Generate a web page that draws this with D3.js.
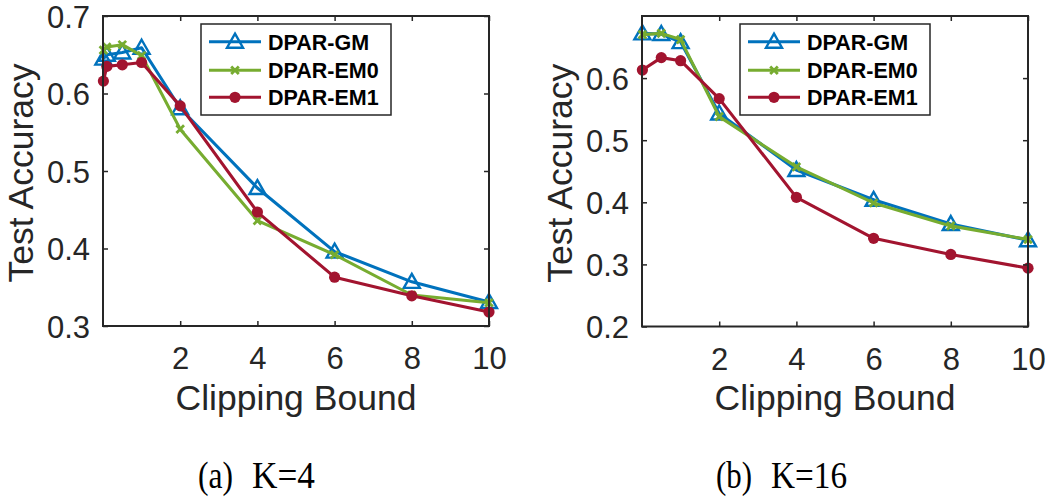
<!DOCTYPE html>
<html>
<head>
<meta charset="utf-8">
<script src="https://cdn.jsdelivr.net/npm/d3@7"></script>
<style>
  html, body { margin: 0; padding: 0; background: #fff; }
  svg { display: block; }
</style>
</head>
<body>
<svg id="chart" width="1050" height="497"></svg>
<script>
// ---------- data ----------
const seriesNames = ["DPAR-GM", "DPAR-EM0", "DPAR-EM1"];

// (a) K=4
const xA = [0.01, 0.1, 0.5, 1, 2, 4, 6, 8, 10];
const gmA  = [0.645, 0.650, 0.653, 0.659, 0.581, 0.478, 0.396, 0.357, 0.331];
const em0A = [0.656, 0.660, 0.663, 0.649, 0.554, 0.436, 0.392, 0.340, 0.330];
const em1A = [0.616, 0.635, 0.637, 0.640, 0.584, 0.447, 0.363, 0.339, 0.318];

// (b) K=16
const xB = [0.01, 0.5, 1, 2, 4, 6, 8, 10];
const gmB  = [0.672, 0.671, 0.658, 0.543, 0.452, 0.404, 0.365, 0.339];
const em0B = [0.670, 0.672, 0.662, 0.538, 0.457, 0.399, 0.362, 0.340];
const em1B = [0.613, 0.633, 0.628, 0.567, 0.408, 0.342, 0.316, 0.294];

const xTicks = [2, 4, 6, 8, 10];
const yTicksA = [0.3, 0.4, 0.5, 0.6, 0.7];
const yTicksB = [0.2, 0.3, 0.4, 0.5, 0.6];
const yDomainA = [0.3, 0.7];
const yDomainB = [0.2, 0.7];
const xLabel = "Clipping Bound";
const yLabel = "Test Accuracy";
const captionTag = ["(a)", "(b)"];
const captionK = ["K=4", "K=16"];

// ---------- style ----------
const colors = ["#0072BD", "#77AC30", "#A2142F"];
const axisColor = "#262626";
const sans = "'Liberation Sans', Arial, Helvetica, sans-serif";
const serif = "'Liberation Serif', 'Times New Roman', serif";

const svg = d3.select("#chart");

function drawMarker(g, type, x, y, color) {
  if (type === 0) {
    const s = 8;
    g.append("path")
      .attr("d", `M${x},${y - s} L${x + s},${y + s * 0.75} L${x - s},${y + s * 0.75} Z`)
      .attr("fill", "none").attr("stroke", color).attr("stroke-width", 2.4)
      .attr("stroke-linejoin", "miter");
  } else if (type === 1) {
    const s = 3.8;
    g.append("path")
      .attr("d", `M${x - s},${y - s} L${x + s},${y + s} M${x - s},${y + s} L${x + s},${y - s}`)
      .attr("stroke", color).attr("stroke-width", 2.8).attr("fill", "none");
  } else {
    g.append("circle").attr("cx", x).attr("cy", y).attr("r", 5.6).attr("fill", color);
  }
}

function panel(cfg) {
  const { left, right, top, bottom, xs, ys, yDomain, yTicks, legendLeft, idx } = cfg;
  const x = d3.scaleLinear().domain([0, 10]).range([left, right]);
  const y = d3.scaleLinear().domain(yDomain).range([bottom, top]);
  const g = svg.append("g");

  // lines and markers
  ys.forEach((vals, si) => {
    const pts = xs.map((xv, i) => [x(xv), y(vals[i])]);
    g.append("path")
      .attr("d", d3.line()(pts))
      .attr("fill", "none").attr("stroke", colors[si]).attr("stroke-width", 3.1)
      .attr("stroke-linejoin", "round");
    pts.forEach(p => drawMarker(g, si, p[0], p[1], colors[si]));
  });

  // axes (bottom + left with labels), mirrored ticks top + right
  const tickLen = 5;
  const axB = d3.axisBottom(x).tickValues(xTicks).tickSize(-tickLen).tickFormat(d3.format("d")).tickPadding(0);
  const gb = g.append("g").attr("transform", `translate(0,${bottom})`).call(axB);
  const axT = d3.axisTop(x).tickValues(xTicks).tickSize(-tickLen).tickFormat("");
  const gt = g.append("g").attr("transform", `translate(0,${top})`).call(axT);
  const axL = d3.axisLeft(y).tickValues(yTicks).tickSize(-tickLen).tickFormat(d3.format(".1f")).tickPadding(0);
  const gl = g.append("g").attr("transform", `translate(${left},0)`).call(axL);
  const axR = d3.axisRight(y).tickValues(yTicks).tickSize(-tickLen).tickFormat("");
  const gr = g.append("g").attr("transform", `translate(${right},0)`).call(axR);
  [gb, gt, gl, gr].forEach(a => {
    a.select(".domain").remove();
    a.selectAll(".tick line").attr("stroke", axisColor).attr("stroke-width", 1.5);
  });
  gb.selectAll(".tick text")
    .attr("font-family", sans).attr("font-size", 31).attr("fill", axisColor)
    .attr("y", 0).attr("dy", 0).attr("transform", "translate(0,43)");
  gl.selectAll(".tick text")
    .attr("font-family", sans).attr("font-size", 31).attr("fill", axisColor)
    .attr("x", -13).attr("dy", "0.36em");

  // box
  g.append("rect")
    .attr("x", left).attr("y", top).attr("width", right - left).attr("height", bottom - top)
    .attr("fill", "none").attr("stroke", axisColor).attr("stroke-width", 2);

  // axis labels
  g.append("text")
    .attr("x", (left + right) / 2).attr("y", 410)
    .attr("text-anchor", "middle").attr("font-family", sans).attr("font-size", 35.5)
    .attr("fill", axisColor).text(xLabel);
  g.append("text")
    .attr("transform", `translate(${left - 70},${(top + bottom) / 2 + 2}) rotate(-90)`)
    .attr("text-anchor", "middle").attr("font-family", sans).attr("font-size", 35.5)
    .attr("fill", axisColor).text(yLabel);

  // legend
  const lg = g.append("g");
  const lTop = 24, lBottom = 115, lW = 190;
  lg.append("rect").attr("x", legendLeft).attr("y", lTop).attr("width", lW).attr("height", lBottom - lTop)
    .attr("fill", "#fff").attr("stroke", axisColor).attr("stroke-width", 1.5);
  const rowY = [41.7, 70.2, 97.3];
  seriesNames.forEach((name, si) => {
    const ry = rowY[si];
    lg.append("line").attr("x1", legendLeft + 8).attr("x2", legendLeft + 60)
      .attr("y1", ry).attr("y2", ry).attr("stroke", colors[si]).attr("stroke-width", 3.1);
    drawMarker(lg, si, legendLeft + 34, ry, colors[si]);
    lg.append("text").attr("x", legendLeft + 67).attr("y", ry + 7.8)
      .attr("font-family", sans).attr("font-weight", "bold").attr("font-size", 21.5)
      .attr("fill", "#000").text(name);
  });

  // caption
  const cap = cfg.caption;
  svg.append("text").attr("x", cap.tagX).attr("y", 488)
    .attr("font-family", serif).attr("font-size", 38).attr("fill", "#000")
    .attr("textLength", cap.tagW).attr("lengthAdjust", "spacingAndGlyphs")
    .text(captionTag[idx]);
  svg.append("text").attr("x", cap.kX).attr("y", 488)
    .attr("font-family", serif).attr("font-size", 38).attr("fill", "#000")
    .attr("textLength", cap.kW).attr("lengthAdjust", "spacingAndGlyphs")
    .text(captionK[idx]);
}

panel({
  idx: 0, left: 103, right: 489, top: 16, bottom: 326,
  xs: xA, ys: [gmA, em0A, em1A], yDomain: yDomainA, yTicks: yTicksA, legendLeft: 201,
  caption: { tagX: 198, tagW: 35, kX: 252, kW: 63 }
});
panel({
  idx: 1, left: 642, right: 1028, top: 16, bottom: 326.5,
  xs: xB, ys: [gmB, em0B, em1B], yDomain: yDomainB, yTicks: yTicksB, legendLeft: 740,
  caption: { tagX: 716, tagW: 36, kX: 771, kW: 76 }
});
</script>
</body>
</html>
